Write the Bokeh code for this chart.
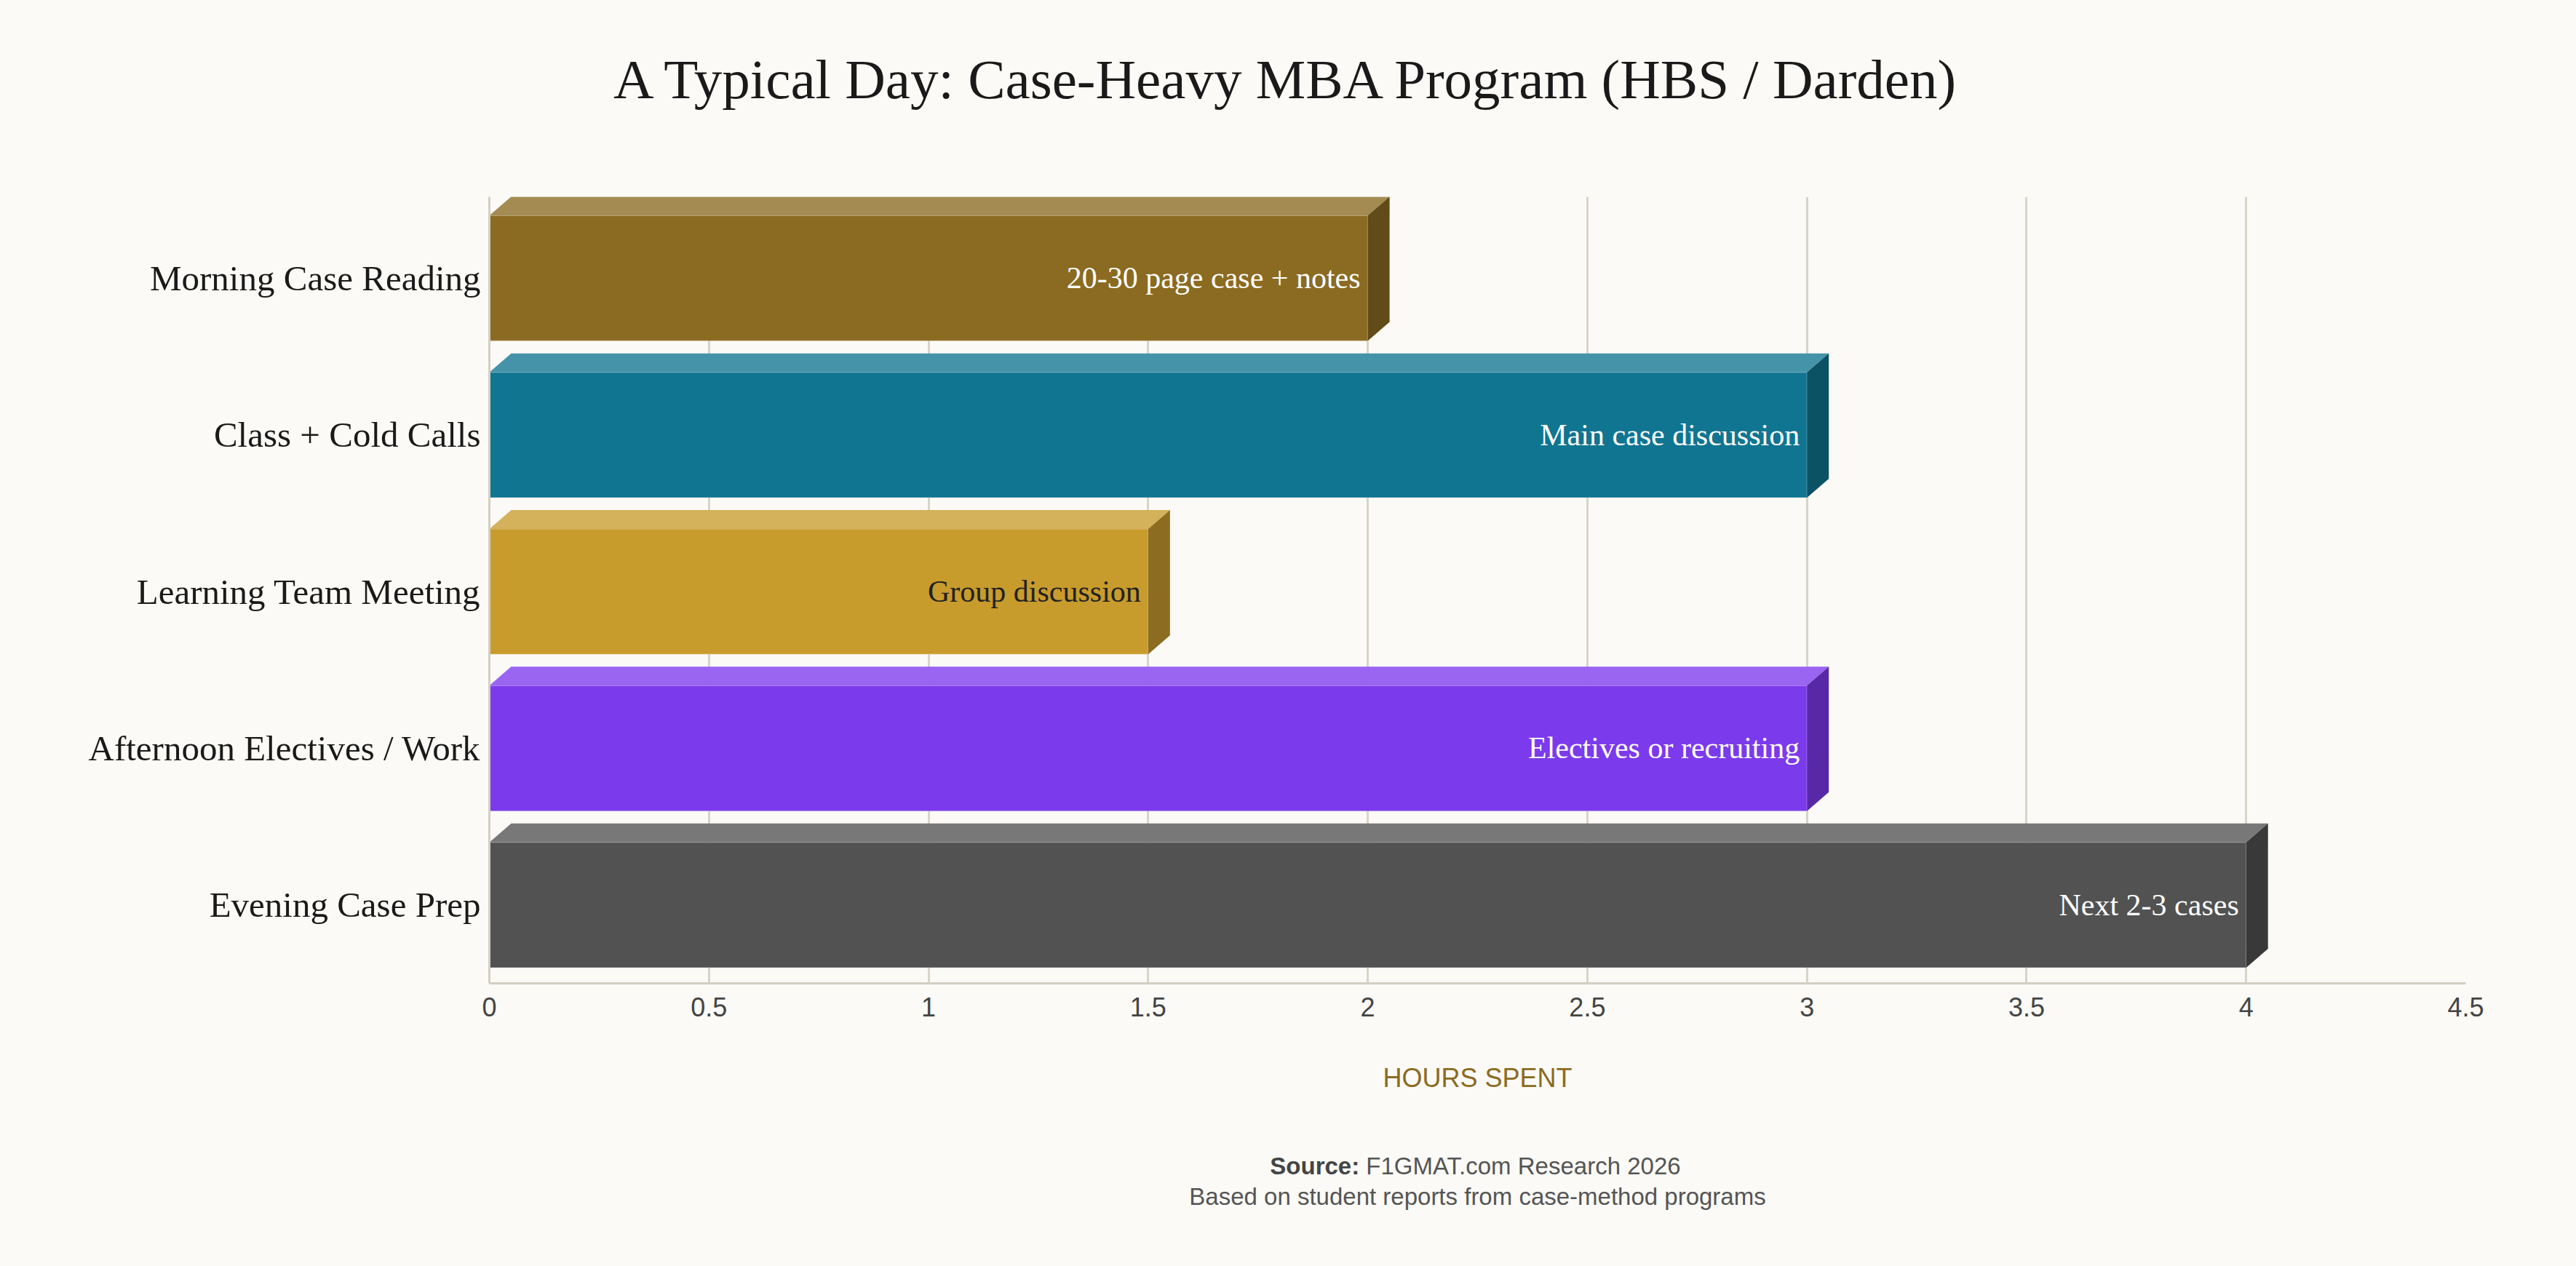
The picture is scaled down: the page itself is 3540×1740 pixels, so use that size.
from bokeh.plotting import figure
from bokeh.models import ColumnDataSource, Range1d, FixedTicker
from bokeh.layouts import column
from bokeh.core.properties import value
from bokeh.embed import file_html
from bokeh.resources import INLINE

# ---------------- data ----------------
TITLE = "A Typical Day: Case-Heavy MBA Program (HBS / Darden)"
CATEGORIES = ["Morning Case Reading", "Class + Cold Calls", "Learning Team Meeting",
              "Afternoon Electives / Work", "Evening Case Prep"]
HOURS = [2, 3, 1.5, 3, 4]
BAR_LABELS = ["20-30 page case + notes", "Main case discussion", "Group discussion",
              "Electives or recruiting", "Next 2-3 cases"]
X_TICKS = [0, 0.5, 1, 1.5, 2, 2.5, 3, 3.5, 4, 4.5]
X_TICK_LABELS = ["0", "0.5", "1", "1.5", "2", "2.5", "3", "3.5", "4", "4.5"]
X_AXIS_TITLE = "HOURS SPENT"
SOURCE_BOLD = "Source:"
SOURCE_TEXT = "F1GMAT.com Research 2026"
SOURCE_NOTE = "Based on student reports from case-method programs"

# ---------------- styles ----------------
BG = "#FBFAF6"
FRONT = ["#8B6B22", "#107591", "#C89B2D", "#7C3AED", "#525252"]
TOP = ["#A48B52", "#4493A9", "#D4B15B", "#9965F1", "#787878"]
SIDE = ["#614B18", "#0B5265", "#8C6C20", "#5729A6", "#393939"]
LABEL_COLORS = ["#FFFFFF", "#FFFFFF", "#222222", "#FFFFFF", "#FFFFFF"]
SERIF = "Liberation Serif"
SANS = "Liberation Sans"

W = 3536
H_HEAD, H_MAIN, H_FOOT = 200, 1360, 176
FRAME_L, FRAME_R = 672, 3388
BORDER_T, BORDER_B = 70, 209
XMAX = 4.5
Y_LO, Y_HI = -0.5, 4.52
HALF = 0.4

frame_w = FRAME_R - FRAME_L
frame_h = H_MAIN - BORDER_T - BORDER_B
px_x = XMAX / frame_w
px_y = (Y_HI - Y_LO) / frame_h
DX = 30 * px_x
DY = 26 * px_y

n = len(CATEGORIES)
Y = [n - 1 - i for i in range(n)]

front_src = ColumnDataSource(dict(
    y=Y, right=HOURS, left=[0] * n, bottom=[y - HALF for y in Y], top=[y + HALF for y in Y],
    color=FRONT, label=BAR_LABELS, lcolor=LABEL_COLORS))
top_src = ColumnDataSource(dict(
    xs=[[0, DX, v + DX, v] for v in HOURS],
    ys=[[y + HALF, y + HALF + DY, y + HALF + DY, y + HALF] for y in Y],
    color=TOP))
side_src = ColumnDataSource(dict(
    xs=[[v, v + DX, v + DX, v] for v in HOURS],
    ys=[[y + HALF, y + HALF + DY, y - HALF + DY, y - HALF] for y in Y],
    color=SIDE))


def text_strip(height):
    """Blank strip whose frame lines up with the chart frame; x in page pixels."""
    f = figure(width=W, height=height, x_range=Range1d(FRAME_L, FRAME_R),
               y_range=Range1d(height, 0), title=None,
               output_backend="svg", toolbar_location=None,
               x_axis_location=None, y_axis_location=None,
               min_border_left=FRAME_L, min_border_right=W - FRAME_R,
               min_border_top=0, min_border_bottom=0,
               background_fill_color=BG, border_fill_color=BG, outline_line_color=None)
    f.grid.visible = False
    return f


# ---------------- header (title) ----------------
head = text_strip(H_HEAD)
head.text(x=[1770], y=[108], text=[TITLE], text_font=value(SERIF), text_font_size="77px",
          text_align="center", text_baseline="alphabetic", text_color="#1A1A1A")

# ---------------- main chart ----------------
p = figure(width=W, height=H_MAIN, x_range=Range1d(0, XMAX), y_range=Range1d(Y_LO, Y_HI),
           title=None, output_backend="svg", toolbar_location=None,
           min_border_left=FRAME_L, min_border_right=W - FRAME_R,
           min_border_top=BORDER_T, min_border_bottom=BORDER_B,
           background_fill_color=BG, border_fill_color=BG, outline_line_color=None)

p.xaxis.ticker = FixedTicker(ticks=X_TICKS)
p.xaxis.major_label_overrides = {t: l for t, l in zip(X_TICKS, X_TICK_LABELS)}
p.xaxis.axis_label = X_AXIS_TITLE
p.xaxis.axis_label_text_font = SANS
p.xaxis.axis_label_text_font_size = "36px"
p.xaxis.axis_label_text_font_style = "normal"
p.xaxis.axis_label_text_color = "#8B6B22"
p.xaxis.axis_label_standoff = 61
p.xaxis.major_label_text_font = SANS
p.xaxis.major_label_text_font_size = "36px"
p.xaxis.major_label_text_color = "#444444"
p.xaxis.major_label_standoff = 19

p.yaxis.ticker = FixedTicker(ticks=Y)
p.yaxis.major_label_overrides = {y: c for y, c in zip(Y, CATEGORIES)}
p.yaxis.major_label_text_font = SERIF
p.yaxis.major_label_text_font_size = "49px"
p.yaxis.major_label_text_color = "#1A1A1A"
p.yaxis.major_label_standoff = 12

for ax in (p.xaxis, p.yaxis):
    ax.axis_line_color = "#D4CEC2"
    ax.axis_line_width = 3
    ax.major_tick_line_color = None
    ax.minor_tick_line_color = None
    ax.major_tick_out = 0
    ax.major_tick_in = 0

p.xgrid.ticker = FixedTicker(ticks=X_TICKS)
p.xgrid.grid_line_color = "#D9D4C9"
p.xgrid.grid_line_width = 3
p.ygrid.grid_line_color = None

p.quad(left="left", right="right", bottom="bottom", top="top", source=front_src,
       fill_color="color", line_color="white", line_alpha=0.25, line_width=1.5)
p.patches("xs", "ys", source=top_src, fill_color="color", line_color=None)
p.patches("xs", "ys", source=side_src, fill_color="color", line_color=None)
p.text(x="right", y="y", text="label", source=front_src, x_offset=-10,
       text_font=value(SERIF), text_font_size="42px", text_align="right",
       text_baseline="middle", text_color="lcolor")

# ---------------- footer (source) ----------------
foot = text_strip(H_FOOT)
cx = (FRAME_L + FRAME_R) / 2
fs = 33
w_bold = 3.723 * fs
w_space = 0.278 * fs
w_rest = 13.282 * fs
start = cx - (w_bold + w_space + w_rest) / 2
foot.text(x=[start + w_bold], y=[42], text=[SOURCE_BOLD], text_font=value(SANS),
          text_font_size=f"{fs}px", text_font_style="bold", text_align="right",
          text_baseline="alphabetic", text_color="#444444")
foot.text(x=[start + w_bold + w_space], y=[42], text=[SOURCE_TEXT], text_font=value(SANS),
          text_font_size=f"{fs}px", text_align="left",
          text_baseline="alphabetic", text_color="#555555")
foot.text(x=[cx], y=[84], text=[SOURCE_NOTE], text_font=value(SANS),
          text_font_size=f"{fs}px", text_align="center",
          text_baseline="alphabetic", text_color="#555555")

layout = column(head, p, foot, spacing=0)

TEMPLATE = ("{% block postamble %}<style>html, body { margin: 0; padding: 0; "
            "background: #FBFAF6; }</style>{% endblock %}")
open("out.html", "w").write(file_html(layout, INLINE, template=TEMPLATE))
